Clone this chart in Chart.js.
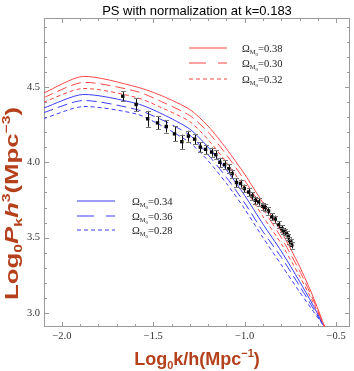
<!DOCTYPE html>
<html>
<head>
<meta charset="utf-8">
<script src="https://cdn.jsdelivr.net/npm/chart.js@4.4.0/dist/chart.umd.min.js"></script>
<style>
  html, body { margin: 0; padding: 0; background: #fff; }
  canvas { display: block; }
</style>
</head>
<body>
<canvas id="chart" width="354" height="371"></canvas>
<script>
const title = 'PS with normalization at k=0.183'

// model curves, log10 k/h against log10 P h^3
const curveK = [-2.1, -1.886, -1.59, -1.45, -1.3, -1.2, -1.1, -1.0, -0.9, -0.8, -0.7, -0.63, -0.56]
const om038 = [4.46, 4.57, 4.50, 4.44, 4.35, 4.24, 4.09, 3.92, 3.73, 3.54, 3.31, 3.12, 2.90]
const om030 = [4.43, 4.53, 4.47, 4.40, 4.31, 4.20, 4.05, 3.88, 3.69, 3.50, 3.28, 3.10, 2.90]
const om032 = [4.40, 4.49, 4.43, 4.36, 4.27, 4.15, 4.00, 3.83, 3.64, 3.46, 3.245, 3.08, 2.90]
const om034 = [4.36, 4.45, 4.39, 4.32, 4.22, 4.10, 3.95, 3.78, 3.59, 3.41, 3.21, 3.06, 2.90]
const om036 = [4.33, 4.41, 4.35, 4.28, 4.18, 4.05, 3.90, 3.73, 3.54, 3.37, 3.18, 3.04, 2.90]
const om028 = [4.29, 4.37, 4.32, 4.24, 4.13, 4.01, 3.86, 3.69, 3.50, 3.32, 3.14, 3.02, 2.90]

// measured points with errors
const dataK = [-1.667, -1.594, -1.531, -1.477, -1.429, -1.384, -1.344, -1.308, -1.274, -1.243, -1.214, -1.181,
  -1.158, -1.136, -1.110, -1.087, -1.069, -1.045, -1.023, -1.002, -0.978, -0.960, -0.942, -0.924, -0.902,
  -0.887, -0.870, -0.852, -0.833, -0.815, -0.797, -0.790, -0.779, -0.770, -0.761, -0.755, -0.748, -0.743]
const dataP = [4.439, 4.384, 4.289, 4.262, 4.238, 4.189, 4.137, 4.174, 4.154, 4.101, 4.086, 4.068,
  4.051, 4.000, 3.985, 3.958, 3.925, 3.866, 3.859, 3.826, 3.803, 3.777, 3.748, 3.737, 3.709,
  3.700, 3.677, 3.638, 3.623, 3.587, 3.561, 3.545, 3.538, 3.520, 3.505, 3.480, 3.472, 3.450]
const dataErr = [0.034, 0.043, 0.053, 0.043, 0.040, 0.050, 0.047, 0.036, 0.033, 0.033, 0.030, 0.030,
  0.028, 0.030, 0.028, 0.028, 0.027, 0.030, 0.027, 0.026, 0.026, 0.025, 0.025, 0.024, 0.024,
  0.024, 0.024, 0.023, 0.023, 0.023, 0.023, 0.022, 0.022, 0.022, 0.022, 0.022, 0.022, 0.022]

const xTicks = [-2.0, -1.5, -1.0, -0.5]
const xTickLabels = ['\u22122.0', '\u22121.5', '\u22121.0', '\u22120.5']
const yTicks = [3.0, 3.5, 4.0, 4.5]
const yTickLabels = ['3.0', '3.5', '4.0', '4.5']
const legendTop = ['0.38', '0.30', '0.32']
const legendBottom = ['0.34', '0.36', '0.28']

const red = 'rgb(255,70,70)'
const blue = 'rgb(60,60,255)'
const axisColor = '#b5401c'
const serif = '"Liberation Serif", "DejaVu Serif", serif'
const sans = '"Liberation Sans", Arial, sans-serif'

const pts = (ys) => curveK.map((k, i) => ({ x: k, y: ys[i] }))

const curve = (label, ys, color, dash) => ({
  label: label,
  data: pts(ys),
  showLine: true,
  borderColor: color,
  borderWidth: 1,
  borderDash: dash,
  pointRadius: 0,
  tension: 0.25,
  fill: false
})

// draws a run of text pieces (subscripts, superscripts) centred on x
const drawRich = (ctx, segs, x, y) => {
  let total = 0
  segs.forEach(s => { ctx.font = s.f; s.w = ctx.measureText(s.t).width; total += s.w })
  let cx = x - total / 2
  segs.forEach(s => {
    ctx.font = s.f
    ctx.fillText(s.t, cx, y + (s.dy || 0))
    cx += s.w
  })
  return total
}

const omegaLabel = (ctx, val, x, y) => {
  const segs = [
    { t: '\u03A9', f: '10.5px ' + serif },
    { t: 'M', f: '6.5px ' + serif, dy: 2.5 },
    { t: '0', f: '5px ' + serif, dy: 4.5 },
    { t: '=' + val, f: '10.5px ' + serif }
  ]
  let total = 0
  segs.forEach(s => { ctx.font = s.f; total += ctx.measureText(s.t).width })
  drawRich(ctx, segs, x + total / 2, y)
}

const legendLine = (ctx, color, dash, x1, x2, y) => {
  ctx.save()
  ctx.strokeStyle = color
  ctx.lineWidth = 1.1
  ctx.setLineDash(dash)
  ctx.beginPath()
  ctx.moveTo(x1, y)
  ctx.lineTo(x2, y)
  ctx.stroke()
  ctx.restore()
}

const framePlugin = {
  id: 'frame',
  beforeDatasetsDraw(chart) {
    const { ctx, chartArea: a, scales } = chart
    ctx.save()
    ctx.strokeStyle = '#9a9a9a'
    ctx.lineWidth = 1
    ctx.strokeRect(Math.round(a.left) + 0.5, Math.round(a.top) + 0.5,
      Math.round(a.right - a.left) - 1, Math.round(a.bottom - a.top) - 1)
    ctx.beginPath()
    for (let i = -21; i <= -4; i++) {
      const v = i / 10
      if (v < scales.x.min || v > scales.x.max) continue
      const px = Math.round(scales.x.getPixelForValue(v)) + 0.5
      const len = (i % 5 === 0) ? 5 : 3
      ctx.moveTo(px, a.bottom); ctx.lineTo(px, a.bottom - len)
      ctx.moveTo(px, a.top); ctx.lineTo(px, a.top + len)
    }
    for (let i = 29; i <= 49; i++) {
      const v = i / 10
      if (v < scales.y.min || v > scales.y.max) continue
      const py = Math.round(scales.y.getPixelForValue(v)) + 0.5
      const len = (i % 5 === 0) ? 5 : 3
      ctx.moveTo(a.left, py); ctx.lineTo(a.left + len, py)
      ctx.moveTo(a.right, py); ctx.lineTo(a.right - len, py)
    }
    ctx.stroke()
    ctx.restore()
  },
  afterDatasetsDraw(chart) {
    const { ctx, scales } = chart
    ctx.save()
    ctx.lineWidth = 1
    dataK.forEach((k, i) => {
      const px = Math.round(scales.x.getPixelForValue(k)) + 0.5
      const y1 = scales.y.getPixelForValue(dataP[i] - dataErr[i])
      const y2 = scales.y.getPixelForValue(dataP[i] + dataErr[i])
      ctx.strokeStyle = '#111'
      ctx.beginPath(); ctx.moveTo(px, y1); ctx.lineTo(px, y2); ctx.stroke()
      ctx.strokeStyle = '#777'
      ctx.beginPath()
      ctx.moveTo(px - 2.5, Math.round(y1) + 0.5); ctx.lineTo(px + 2.5, Math.round(y1) + 0.5)
      ctx.moveTo(px - 2.5, Math.round(y2) + 0.5); ctx.lineTo(px + 2.5, Math.round(y2) + 0.5)
      ctx.stroke()
    })
    ctx.restore()
  },
  afterDraw(chart) {
    const { ctx, chartArea: a } = chart
    ctx.save()
    ctx.fillStyle = '#000'
    ctx.textBaseline = 'alphabetic'
    ctx.textAlign = 'left'

    // title
    ctx.font = '13px ' + sans
    const tw = ctx.measureText(title).width
    ctx.fillText(title, (a.left + a.right) / 2 - tw / 2, 14.5)

    // legends
    const styles = [[], [17, 12], [4, 3]]
    const rowsTop = [48, 63, 79]
    const rowsBottom = [201, 216, 230]
    legendTop.forEach((v, i) => {
      legendLine(ctx, red, styles[i], 189, 227, rowsTop[i])
      ctx.fillStyle = '#222'
      omegaLabel(ctx, v, 242, rowsTop[i] + 3.5)
    })
    legendBottom.forEach((v, i) => {
      legendLine(ctx, blue, styles[i], 77, 115, rowsBottom[i])
      ctx.fillStyle = '#222'
      omegaLabel(ctx, v, 132, rowsBottom[i] + 3.5)
    })

    // axis titles
    ctx.fillStyle = axisColor
    const big = 'bold 18px ' + sans
    const small = 'bold 11px ' + sans
    drawRich(ctx, [
      { t: 'Log', f: big },
      { t: '0', f: small, dy: 4 },
      { t: 'k/h(Mpc', f: big },
      { t: '\u22121', f: small, dy: -8 },
      { t: ')', f: big }
    ], (a.left + a.right) / 2, 365)

    ctx.translate(18, 203.5)
    ctx.rotate(-Math.PI / 2)
    const ySegs = [
      { t: 'Log', f: big },
      { t: '0', f: small, dy: 4 },
      { t: 'P', f: 'italic ' + big },
      { t: 'k', f: small, dy: 4 },
      { t: 'h', f: 'italic ' + big },
      { t: '3', f: small, dy: -8 },
      { t: '(Mpc', f: big },
      { t: '\u22123', f: small, dy: -8 },
      { t: ')', f: big }
    ]
    let w = 0
    ySegs.forEach(s => { ctx.font = s.f; w += ctx.measureText(s.t).width })
    ctx.scale(193 / w, 1)
    drawRich(ctx, ySegs, 0, 0)
    ctx.restore()
  }
}

const ctx = document.getElementById('chart').getContext('2d')

const myChart = new Chart(ctx, {
  type: 'scatter',
  data: {
    datasets: [
      {
        label: 'data',
        data: dataK.map((k, i) => ({ x: k, y: dataP[i] })),
        pointStyle: 'rect',
        pointRadius: 2.4,
        backgroundColor: '#000',
        borderColor: '#000',
        borderWidth: 0,
        showLine: false
      },
      curve('0.38', om038, red, []),
      curve('0.30', om030, red, [10, 5]),
      curve('0.32', om032, red, [4, 3]),
      curve('0.34', om034, blue, []),
      curve('0.36', om036, blue, [10, 5]),
      curve('0.28', om028, blue, [4, 3])
    ]
  },
  options: {
    responsive: false,
    animation: false,
    layout: { padding: { top: 18, right: 2, left: 0, bottom: 0 } },
    plugins: {
      legend: { display: false },
      tooltip: { enabled: false },
      title: { display: false }
    },
    scales: {
      x: {
        type: 'linear',
        min: -2.098,
        max: -0.424,
        grid: { display: false, drawTicks: false },
        border: { display: false },
        afterBuildTicks: (axis) => { axis.ticks = xTicks.map(v => ({ value: v })) },
        afterFit: (axis) => { axis.height = 44 },
        ticks: {
          padding: 3,
          color: '#333',
          font: { family: serif, size: 10.5 },
          callback: (v) => xTickLabels[xTicks.indexOf(v)]
        }
      },
      y: {
        type: 'linear',
        min: 2.907,
        max: 4.958,
        grid: { display: false, drawTicks: false },
        border: { display: false },
        afterBuildTicks: (axis) => { axis.ticks = yTicks.map(v => ({ value: v })) },
        afterFit: (axis) => { axis.width = 44 },
        ticks: {
          padding: 4,
          color: '#333',
          font: { family: serif, size: 10.5 },
          callback: (v) => yTickLabels[yTicks.indexOf(v)]
        }
      }
    }
  },
  plugins: [framePlugin]
})
</script>
</body>
</html>
